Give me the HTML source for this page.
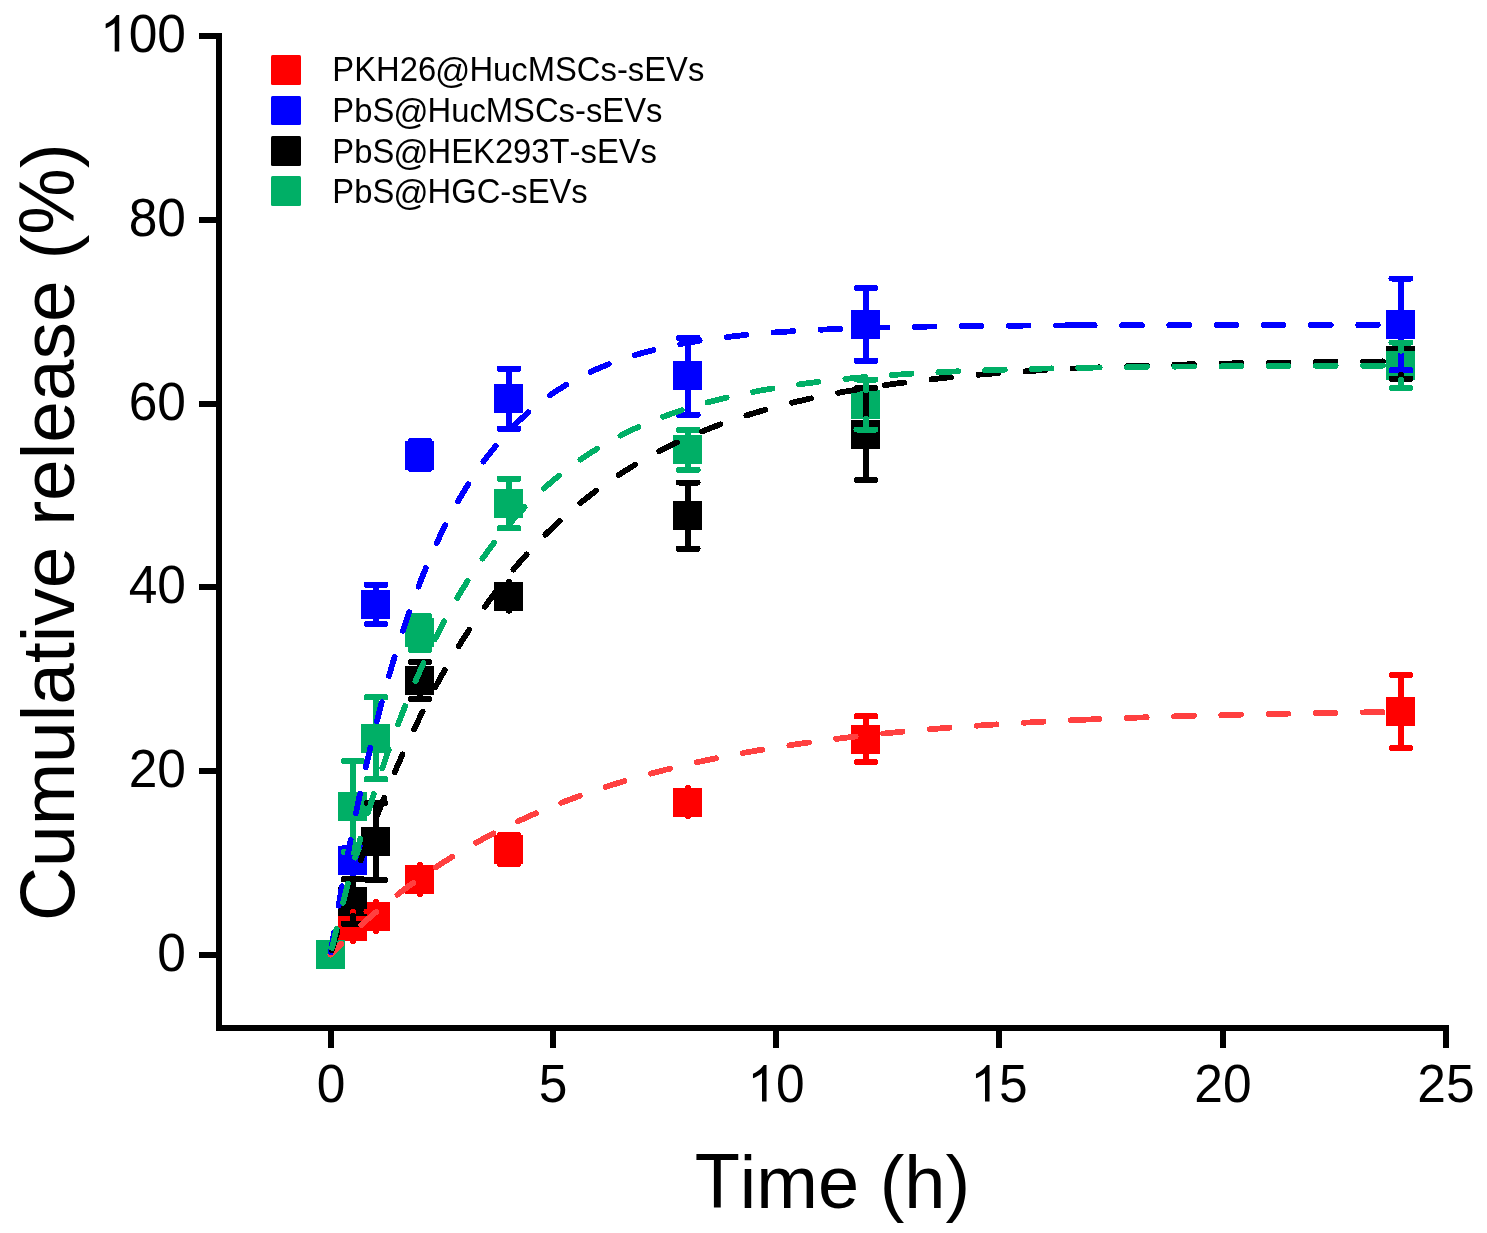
<!DOCTYPE html>
<html><head><meta charset="utf-8"><style>
html,body{margin:0;padding:0;background:#fff;overflow:hidden;}
svg{display:block;will-change:transform;}
text{font-family:"Liberation Sans",sans-serif;fill:#000;font-kerning:none;font-feature-settings:"kern" 0;}
</style></head><body>
<svg width="1487" height="1233" viewBox="0 0 1487 1233">
<rect width="1487" height="1233" fill="#fff"/>
<g fill="#000" shape-rendering="crispEdges">
<rect x="216" y="33" width="6" height="998"/>
<rect x="216" y="1025" width="1233" height="6"/>
<rect x="199" y="952" width="20" height="6"/>
<rect x="199" y="768" width="20" height="6"/>
<rect x="199" y="584" width="20" height="6"/>
<rect x="199" y="401" width="20" height="6"/>
<rect x="199" y="217" width="20" height="6"/>
<rect x="199" y="33" width="20" height="6"/>
<rect x="328" y="1028" width="6" height="20"/>
<rect x="550" y="1028" width="6" height="20"/>
<rect x="773" y="1028" width="6" height="20"/>
<rect x="996" y="1028" width="6" height="20"/>
<rect x="1220" y="1028" width="6" height="20"/>
<rect x="1443" y="1028" width="6" height="20"/>
</g>
<g fill="#000">
<text font-size="53" transform="translate(157.35 970.50) scale(0.972 1)">0</text>
<text font-size="53" transform="translate(128.70 786.50) scale(0.972 1)">2</text><text font-size="53" transform="translate(157.35 786.50) scale(0.972 1)">0</text>
<text font-size="53" transform="translate(128.70 602.50) scale(0.972 1)">4</text><text font-size="53" transform="translate(157.35 602.50) scale(0.972 1)">0</text>
<text font-size="53" transform="translate(128.70 419.50) scale(0.972 1)">6</text><text font-size="53" transform="translate(157.35 419.50) scale(0.972 1)">0</text>
<text font-size="53" transform="translate(128.70 235.50) scale(0.972 1)">8</text><text font-size="53" transform="translate(157.35 235.50) scale(0.972 1)">0</text>
<polygon points="119.24,51.50 114.71,51.50 114.71,22.95 113.63,23.97 112.12,25.02 110.36,26.06 108.60,26.96 107.09,27.66 105.66,28.20 105.66,23.87 108.35,22.55 110.86,20.84 113.13,18.89 114.89,16.90 116.47,15.01 119.24,15.01"/><text font-size="53" transform="translate(128.70 51.50) scale(0.972 1)">0</text><text font-size="53" transform="translate(157.35 51.50) scale(0.972 1)">0</text>
<text font-size="53" transform="translate(316.67 1101.50) scale(0.972 1)">0</text>
<text font-size="53" transform="translate(538.67 1101.50) scale(0.972 1)">5</text>
<polygon points="766.54,1101.50 762.01,1101.50 762.01,1072.95 760.93,1073.97 759.42,1075.02 757.66,1076.06 755.90,1076.96 754.39,1077.66 752.96,1078.20 752.96,1073.87 755.65,1072.55 758.17,1070.84 760.43,1068.89 762.19,1066.90 763.78,1065.01 766.54,1065.01"/><text font-size="53" transform="translate(776.00 1101.50) scale(0.972 1)">0</text>
<polygon points="989.54,1101.50 985.01,1101.50 985.01,1072.95 983.93,1073.97 982.42,1075.02 980.66,1076.06 978.90,1076.96 977.39,1077.66 975.96,1078.20 975.96,1073.87 978.65,1072.55 981.17,1070.84 983.43,1068.89 985.19,1066.90 986.78,1065.01 989.54,1065.01"/><text font-size="53" transform="translate(999.00 1101.50) scale(0.972 1)">5</text>
<text font-size="53" transform="translate(1194.35 1101.50) scale(0.972 1)">2</text><text font-size="53" transform="translate(1223.00 1101.50) scale(0.972 1)">0</text>
<text font-size="53" transform="translate(1417.35 1101.50) scale(0.972 1)">2</text><text font-size="53" transform="translate(1446.00 1101.50) scale(0.972 1)">5</text>
</g>
<text font-size="74.03" transform="translate(694.64 1208.20) scale(1.0 1.045)">T</text><text font-size="74.03" transform="translate(739.86 1208.20) scale(1.0 1)">i</text><text font-size="74.03" transform="translate(756.31 1208.20) scale(1.0 1)">m</text><text font-size="74.03" transform="translate(817.98 1208.20) scale(1.0 1)">e</text><text font-size="74.03" transform="translate(879.71 1208.20) scale(1.0 1)">(</text><text font-size="74.03" transform="translate(904.37 1208.20) scale(1.0 1)">h</text><text font-size="74.03" transform="translate(945.54 1208.20) scale(1.0 1)">)</text>
<g transform="translate(73.8 921) rotate(-90)"><text font-size="74.84" transform="translate(0.00 0.00) scale(1.0 1.045)">C</text><text font-size="74.84" transform="translate(54.05 0.00) scale(1.0 1)">u</text><text font-size="74.84" transform="translate(95.67 0.00) scale(1.0 1)">m</text><text font-size="74.84" transform="translate(158.01 0.00) scale(1.0 1)">u</text><text font-size="74.84" transform="translate(199.63 0.00) scale(1.0 1)">l</text><text font-size="74.84" transform="translate(216.26 0.00) scale(1.0 1)">a</text><text font-size="74.84" transform="translate(257.88 0.00) scale(1.0 1)">t</text><text font-size="74.84" transform="translate(278.68 0.00) scale(1.0 1)">i</text><text font-size="74.84" transform="translate(295.30 0.00) scale(1.0 1)">v</text><text font-size="74.84" transform="translate(332.72 0.00) scale(1.0 1)">e</text><text font-size="74.84" transform="translate(395.14 0.00) scale(1.0 1)">r</text><text font-size="74.84" transform="translate(420.06 0.00) scale(1.0 1)">e</text><text font-size="74.84" transform="translate(461.68 0.00) scale(1.0 1)">l</text><text font-size="74.84" transform="translate(478.31 0.00) scale(1.0 1)">e</text><text font-size="74.84" transform="translate(519.93 0.00) scale(1.0 1)">a</text><text font-size="74.84" transform="translate(561.56 0.00) scale(1.0 1)">s</text><text font-size="74.84" transform="translate(598.98 0.00) scale(1.0 1)">e</text><text font-size="74.84" transform="translate(661.39 0.00) scale(1.0 1)">(</text><text font-size="74.84" transform="translate(686.31 0.00) scale(1.0 1.045)">%</text><text font-size="74.84" transform="translate(752.86 0.00) scale(1.0 1)">)</text></g>
<rect x="271" y="55" width="30" height="30" rx="1.5" fill="#ff0000"/>
<text font-size="32.77" transform="translate(332.31 81.00) scale(1.0 1.045)">P</text><text font-size="32.77" transform="translate(354.17 81.00) scale(1.0 1.045)">K</text><text font-size="32.77" transform="translate(376.02 81.00) scale(1.0 1.045)">H</text><text font-size="32.77" transform="translate(399.69 81.00) scale(1.0 1.045)">2</text><text font-size="32.77" transform="translate(417.92 81.00) scale(1.0 1.045)">6</text><text font-size="32.77" transform="translate(435.07 82.98) scale(1.0650 1.088)">@</text><text font-size="32.77" transform="translate(469.41 81.00) scale(1.0 1.045)">H</text><text font-size="32.77" transform="translate(493.07 81.00) scale(1.0 1)">u</text><text font-size="32.77" transform="translate(511.30 81.00) scale(1.0 1)">c</text><text font-size="32.77" transform="translate(527.68 81.00) scale(1.0 1.045)">M</text><text font-size="32.77" transform="translate(554.98 81.00) scale(1.0 1.045)">S</text><text font-size="32.77" transform="translate(576.84 81.00) scale(1.0 1.045)">C</text><text font-size="32.77" transform="translate(600.50 81.00) scale(1.0 1)">s</text><text font-size="32.77" transform="translate(616.89 81.00) scale(1.0 1)">-</text><text font-size="32.77" transform="translate(627.80 81.00) scale(1.0 1)">s</text><text font-size="32.77" transform="translate(644.19 81.00) scale(1.0 1.045)">E</text><text font-size="32.77" transform="translate(666.04 81.00) scale(1.0 1.045)">V</text><text font-size="32.77" transform="translate(687.90 81.00) scale(1.0 1)">s</text>
<rect x="271" y="96" width="30" height="29" rx="1.5" fill="#0000ff"/>
<text font-size="32.77" transform="translate(332.31 122.00) scale(1.0 1.045)">P</text><text font-size="32.77" transform="translate(354.17 122.00) scale(1.0 1)">b</text><text font-size="32.77" transform="translate(372.39 122.00) scale(1.0 1.045)">S</text><text font-size="32.77" transform="translate(393.18 123.98) scale(1.0650 1.088)">@</text><text font-size="32.77" transform="translate(427.52 122.00) scale(1.0 1.045)">H</text><text font-size="32.77" transform="translate(451.18 122.00) scale(1.0 1)">u</text><text font-size="32.77" transform="translate(469.41 122.00) scale(1.0 1)">c</text><text font-size="32.77" transform="translate(485.79 122.00) scale(1.0 1.045)">M</text><text font-size="32.77" transform="translate(513.09 122.00) scale(1.0 1.045)">S</text><text font-size="32.77" transform="translate(534.95 122.00) scale(1.0 1.045)">C</text><text font-size="32.77" transform="translate(558.61 122.00) scale(1.0 1)">s</text><text font-size="32.77" transform="translate(575.00 122.00) scale(1.0 1)">-</text><text font-size="32.77" transform="translate(585.91 122.00) scale(1.0 1)">s</text><text font-size="32.77" transform="translate(602.29 122.00) scale(1.0 1.045)">E</text><text font-size="32.77" transform="translate(624.15 122.00) scale(1.0 1.045)">V</text><text font-size="32.77" transform="translate(646.01 122.00) scale(1.0 1)">s</text>
<rect x="271" y="136" width="30" height="30" rx="1.5" fill="#000000"/>
<text font-size="32.77" transform="translate(332.31 163.00) scale(1.0 1.045)">P</text><text font-size="32.77" transform="translate(354.17 163.00) scale(1.0 1)">b</text><text font-size="32.77" transform="translate(372.39 163.00) scale(1.0 1.045)">S</text><text font-size="32.77" transform="translate(393.18 164.98) scale(1.0650 1.088)">@</text><text font-size="32.77" transform="translate(427.52 163.00) scale(1.0 1.045)">H</text><text font-size="32.77" transform="translate(451.18 163.00) scale(1.0 1.045)">E</text><text font-size="32.77" transform="translate(473.04 163.00) scale(1.0 1.045)">K</text><text font-size="32.77" transform="translate(494.90 163.00) scale(1.0 1.045)">2</text><text font-size="32.77" transform="translate(513.12 163.00) scale(1.0 1.045)">9</text><text font-size="32.77" transform="translate(531.35 163.00) scale(1.0 1.045)">3</text><text font-size="32.77" transform="translate(549.57 163.00) scale(1.0 1.045)">T</text><text font-size="32.77" transform="translate(569.59 163.00) scale(1.0 1)">-</text><text font-size="32.77" transform="translate(580.50 163.00) scale(1.0 1)">s</text><text font-size="32.77" transform="translate(596.89 163.00) scale(1.0 1.045)">E</text><text font-size="32.77" transform="translate(618.74 163.00) scale(1.0 1.045)">V</text><text font-size="32.77" transform="translate(640.60 163.00) scale(1.0 1)">s</text>
<rect x="271" y="176" width="30" height="30" rx="1.5" fill="#00af66"/>
<text font-size="32.77" transform="translate(332.31 203.00) scale(1.0 1.045)">P</text><text font-size="32.77" transform="translate(354.17 203.00) scale(1.0 1)">b</text><text font-size="32.77" transform="translate(372.39 203.00) scale(1.0 1.045)">S</text><text font-size="32.77" transform="translate(393.18 204.98) scale(1.0650 1.088)">@</text><text font-size="32.77" transform="translate(427.52 203.00) scale(1.0 1.045)">H</text><text font-size="32.77" transform="translate(451.18 203.00) scale(1.0 1.045)">G</text><text font-size="32.77" transform="translate(476.67 203.00) scale(1.0 1.045)">C</text><text font-size="32.77" transform="translate(500.34 203.00) scale(1.0 1)">-</text><text font-size="32.77" transform="translate(511.25 203.00) scale(1.0 1)">s</text><text font-size="32.77" transform="translate(527.63 203.00) scale(1.0 1.045)">E</text><text font-size="32.77" transform="translate(549.49 203.00) scale(1.0 1.045)">V</text><text font-size="32.77" transform="translate(571.35 203.00) scale(1.0 1)">s</text>
<g shape-rendering="crispEdges">
<rect x="316.0" y="940.0" width="29" height="29" fill="#ff0000"/>
<rect x="338.0" y="912.0" width="29" height="29" fill="#ff0000"/>
<rect x="361.0" y="902.0" width="29" height="29" fill="#ff0000"/>
<rect x="405.0" y="865.0" width="29" height="29" fill="#ff0000"/>
<rect x="494.0" y="835.1" width="29" height="29" fill="#ff0000"/>
<rect x="673.1" y="787.5" width="29" height="29" fill="#ff0000"/>
<rect x="851.0" y="724.7" width="29" height="29" fill="#ff0000"/>
<rect x="1386.0" y="697.0" width="29" height="29" fill="#ff0000"/>
<rect x="316.0" y="940.0" width="29" height="29" fill="#0000ff"/>
<rect x="338.0" y="845.8" width="29" height="29" fill="#0000ff"/>
<rect x="361.0" y="590.0" width="29" height="29" fill="#0000ff"/>
<rect x="405.0" y="440.5" width="29" height="29" fill="#0000ff"/>
<rect x="494.0" y="384.4" width="29" height="29" fill="#0000ff"/>
<rect x="673.1" y="361.0" width="29" height="29" fill="#0000ff"/>
<rect x="851.0" y="309.9" width="29" height="29" fill="#0000ff"/>
<rect x="1386.0" y="309.9" width="29" height="29" fill="#0000ff"/>
<rect x="316.0" y="940.0" width="29" height="29" fill="#000000"/>
<rect x="338.0" y="887.1" width="29" height="29" fill="#000000"/>
<rect x="361.0" y="827.0" width="29" height="29" fill="#000000"/>
<rect x="405.0" y="666.0" width="29" height="29" fill="#000000"/>
<rect x="494.0" y="581.7" width="29" height="29" fill="#000000"/>
<rect x="673.1" y="501.1" width="29" height="29" fill="#000000"/>
<rect x="851.0" y="419.5" width="29" height="29" fill="#000000"/>
<rect x="1386.0" y="346.2" width="29" height="29" fill="#000000"/>
<rect x="316.0" y="940.0" width="29" height="29" fill="#00af66"/>
<rect x="338.0" y="792.0" width="29" height="29" fill="#00af66"/>
<rect x="361.0" y="723.8" width="29" height="29" fill="#00af66"/>
<rect x="405.0" y="618.4" width="29" height="29" fill="#00af66"/>
<rect x="494.0" y="489.0" width="29" height="29" fill="#00af66"/>
<rect x="673.1" y="435.4" width="29" height="29" fill="#00af66"/>
<rect x="851.0" y="390.0" width="29" height="29" fill="#00af66"/>
<rect x="1386.0" y="350.8" width="29" height="29" fill="#00af66"/>
</g>
<path d="M353.0 912.0V921.5M343.5 921.5H362.5M353.0 941.0V931.5M343.5 931.5H362.5M376.0 902.0V911.5M366.5 911.5H385.5M376.0 931.0V921.5M366.5 921.5H385.5M420.0 865.0V871.5M410.5 871.5H429.5M420.0 894.0V887.5M410.5 887.5H429.5M509.0 835.1V835.1M499.5 835.1H518.5M509.0 864.1V864.1M499.5 864.1H518.5M688.1 787.5V794.0M678.6 794.0H697.6M688.1 816.5V810.0M678.6 810.0H697.6M866.0 724.7V716.3M856.5 716.3H875.5M866.0 753.7V762.1M856.5 762.1H875.5M1401.0 697.0V675.0M1391.5 675.0H1410.5M1401.0 726.0V748.0M1391.5 748.0H1410.5" stroke="#ff0000" stroke-width="6" stroke-linecap="round" fill="none" shape-rendering="crispEdges"/>
<path d="M353.0 845.8V848.3M343.5 848.3H362.5M353.0 874.8V872.3M343.5 872.3H362.5M376.0 590.0V584.9M366.5 584.9H385.5M376.0 619.0V624.1M366.5 624.1H385.5M420.0 440.5V441.0M410.5 441.0H429.5M420.0 469.5V469.0M410.5 469.0H429.5M509.0 384.4V368.9M499.5 368.9H518.5M509.0 413.4V428.9M499.5 428.9H518.5M688.1 361.0V337.9M678.6 337.9H697.6M688.1 390.0V414.9M678.6 414.9H697.6M866.0 309.9V288.0M856.5 288.0H875.5M866.0 338.9V360.8M856.5 360.8H875.5M1401.0 309.9V278.5M1391.5 278.5H1410.5M1401.0 338.9V370.3M1391.5 370.3H1410.5" stroke="#0000ff" stroke-width="6" stroke-linecap="round" fill="none" shape-rendering="crispEdges"/>
<path d="M353.0 887.1V879.3M343.5 879.3H362.5M353.0 916.1V923.9M343.5 923.9H362.5M376.0 827.0V803.0M366.5 803.0H385.5M376.0 856.0V880.0M366.5 880.0H385.5M420.0 666.0V662.0M410.5 662.0H429.5M420.0 695.0V699.0M410.5 699.0H429.5M509.0 581.7V586.2M499.5 586.2H518.5M509.0 610.7V606.2M499.5 606.2H518.5M688.1 501.1V482.5M678.6 482.5H697.6M688.1 530.1V548.7M678.6 548.7H697.6M866.0 419.5V388.0M856.5 388.0H875.5M866.0 448.5V480.0M856.5 480.0H875.5M1401.0 346.2V342.5M1391.5 342.5H1410.5M1401.0 375.2V378.9M1391.5 378.9H1410.5" stroke="#000000" stroke-width="6" stroke-linecap="round" fill="none" shape-rendering="crispEdges"/>
<path d="M353.0 792.0V761.0M343.5 761.0H362.5M353.0 821.0V852.0M343.5 852.0H362.5M376.0 723.8V697.2M366.5 697.2H385.5M376.0 752.8V779.2M366.5 779.2H385.5M420.0 618.4V616.0M410.5 616.0H429.5M420.0 647.4V649.8M410.5 649.8H429.5M509.0 489.0V478.7M499.5 478.7H518.5M509.0 518.0V528.3M499.5 528.3H518.5M688.1 435.4V429.9M678.6 429.9H697.6M688.1 464.4V469.9M678.6 469.9H697.6M866.0 390.0V379.5M856.5 379.5H875.5M866.0 419.0V429.5M856.5 429.5H875.5M1401.0 350.8V342.5M1391.5 342.5H1410.5M1401.0 379.8V388.1M1391.5 388.1H1410.5" stroke="#00af66" stroke-width="6" stroke-linecap="round" fill="none" shape-rendering="crispEdges"/>
<polyline points="330.50,954.50 330.54,954.46 330.61,954.39 330.71,954.29 330.83,954.16 330.97,954.02 331.13,953.85 331.31,953.67 331.50,953.48 331.71,953.26 331.93,953.04 332.17,952.80 332.42,952.54 332.68,952.28 332.96,952.00 333.24,951.71 333.54,951.41 333.85,951.09 334.17,950.77 334.50,950.44 334.84,950.09 335.20,949.74 335.56,949.37 335.93,949.00 336.32,948.62 336.71,948.23 337.11,947.83 337.52,947.42 337.94,947.00 338.37,946.57 338.81,946.14 339.26,945.69 339.72,945.24 340.18,944.79 340.65,944.32 341.14,943.85 341.63,943.37 342.12,942.88 342.63,942.39 343.15,941.89 343.67,941.38 344.20,940.87 344.74,940.35 345.28,939.82 345.84,939.29 346.40,938.75 346.97,938.21 347.55,937.65 348.13,937.10 348.72,936.54 349.32,935.97 349.93,935.40 350.54,934.82 351.16,934.24 351.79,933.65 352.42,933.05 353.06,932.46 353.71,931.85 354.36,931.25 355.03,930.63 355.69,930.02 356.37,929.39 357.05,928.77 357.74,928.14 358.44,927.50 359.14,926.87 359.85,926.22 360.56,925.58 361.28,924.93 362.01,924.27 362.74,923.62 363.48,922.95 364.23,922.29 364.98,921.62 365.74,920.95 366.51,920.27 367.28,919.60 368.05,918.91 368.84,918.23 369.63,917.54 370.42,916.85 371.22,916.16 372.03,915.46 372.84,914.76 373.66,914.06 374.49,913.36 375.32,912.65 376.16,911.94 377.00,911.23 377.85,910.52 378.70,909.80 379.56,909.08 380.43,908.36 381.30,907.64 382.17,906.91 383.06,906.19 383.94,905.46 384.84,904.73 385.74,903.99 386.64,903.26 387.55,902.52 388.47,901.79 389.39,901.05 390.31,900.31 391.25,899.57 392.18,898.82 393.13,898.08 394.07,897.33 395.03,896.58 395.99,895.84 396.95,895.09 397.92,894.34 398.89,893.59 399.87,892.83 400.86,892.08 401.85,891.33 402.84,890.57 403.84,889.81 404.85,889.06 405.86,888.30 406.88,887.54 407.90,886.78 408.92,886.03 409.95,885.27 410.99,884.51 412.03,883.75 413.08,882.99 414.13,882.23 415.18,881.46 416.25,880.70 417.31,879.94 418.38,879.18 419.46,878.42 420.54,877.66 421.62,876.90 422.71,876.13 423.81,875.37 424.91,874.61 426.02,873.85 427.13,873.09 428.24,872.33 429.36,871.57 430.48,870.81 431.61,870.05 432.75,869.29 433.88,868.53 435.03,867.77 436.18,867.01 437.33,866.26 438.49,865.50 439.65,864.74 440.81,863.99 441.99,863.23 443.16,862.48 444.34,861.72 445.53,860.97 446.72,860.22 447.91,859.47 449.11,858.72 450.31,857.97 451.52,857.22 452.73,856.47 453.95,855.73 455.17,854.98 456.40,854.24 457.63,853.50 458.86,852.75 460.10,852.01 461.35,851.27 462.59,850.53 463.85,849.80 465.10,849.06 466.37,848.33 467.63,847.59 468.90,846.86 470.18,846.13 471.46,845.40 472.74,844.67 474.03,843.95 475.32,843.22 476.62,842.50 477.92,841.78 479.22,841.06 480.53,840.34 481.85,839.62 483.17,838.90 484.49,838.19 485.82,837.48 487.15,836.77 488.48,836.06 489.82,835.35 491.16,834.64 492.51,833.94 493.87,833.24 495.22,832.54 496.58,831.84 497.95,831.14 499.32,830.45 500.69,829.75 502.07,829.06 503.45,828.37 504.83,827.69 506.22,827.00 507.62,826.32 509.02,825.64 510.42,824.96 511.82,824.28 513.23,823.60 514.65,822.93 516.07,822.26 517.49,821.59 518.92,820.92 520.35,820.26 521.78,819.59 523.22,818.93 524.66,818.27 526.11,817.61 527.56,816.96 529.02,816.31 530.48,815.66 531.94,815.01 533.41,814.36 534.88,813.72 536.35,813.08 537.83,812.44 539.31,811.80 540.80,811.17 542.29,810.53 543.79,809.90 545.29,809.27 546.79,808.65 548.29,808.02 549.80,807.40 551.32,806.78 552.84,806.17 554.36,805.55 555.89,804.94 557.42,804.33 558.95,803.72 560.49,803.12 562.03,802.52 563.57,801.92 565.12,801.32 566.68,800.72 568.23,800.13 569.79,799.54 571.36,798.95 572.93,798.36 574.50,797.78 576.08,797.20 577.66,796.62 579.24,796.05 580.83,795.47 582.42,794.90 584.01,794.33 585.61,793.76 587.22,793.20 588.82,792.64 590.43,792.08 592.05,791.52 593.66,790.97 595.28,790.42 596.91,789.87 598.54,789.32 600.17,788.78 601.81,788.23 603.45,787.70 605.09,787.16 606.74,786.62 608.39,786.09 610.04,785.56 611.70,785.04 613.36,784.51 615.03,783.99 616.70,783.47 618.37,782.95 620.05,782.44 621.73,781.93 623.41,781.42 625.10,780.91 626.79,780.40 628.49,779.90 630.19,779.40 631.89,778.90 633.59,778.41 635.30,777.92 637.02,777.43 638.73,776.94 640.45,776.45 642.18,775.97 643.90,775.49 645.63,775.01 647.37,774.54 649.11,774.07 650.85,773.60 652.59,773.13 654.34,772.66 656.10,772.20 657.85,771.74 659.61,771.28 661.37,770.83 663.14,770.37 664.91,769.92 666.68,769.48 668.46,769.03 670.24,768.59 672.02,768.15 673.81,767.71 675.60,767.27 677.40,766.84 679.20,766.41 681.00,765.98 682.80,765.55 684.61,765.13 686.42,764.70 688.24,764.28 690.06,763.87 691.88,763.45 693.70,763.04 695.53,762.63 697.37,762.22 699.20,761.82 701.04,761.42 702.88,761.02 704.73,760.62 706.58,760.22 708.43,759.83 710.29,759.44 712.15,759.05 714.01,758.66 715.88,758.28 717.75,757.89 719.62,757.51 721.50,757.14 723.38,756.76 725.27,756.39 727.15,756.02 729.04,755.65 730.94,755.28 732.83,754.92 734.73,754.56 736.64,754.20 738.55,753.84 740.46,753.49 742.37,753.13 744.29,752.78 746.21,752.43 748.13,752.09 750.06,751.74 751.99,751.40 753.92,751.06 755.86,750.72 757.80,750.39 759.75,750.06 761.69,749.73 763.64,749.40 765.60,749.07 767.56,748.74 769.52,748.42 771.48,748.10 773.45,747.78 775.42,747.47 777.39,747.15 779.37,746.84 781.35,746.53 783.33,746.22 785.32,745.91 787.31,745.61 789.30,745.31 791.30,745.01 793.30,744.71 795.30,744.41 797.31,744.12 799.32,743.83 801.33,743.54 803.34,743.25 805.36,742.96 807.38,742.68 809.41,742.40 811.44,742.12 813.47,741.84 815.51,741.56 817.54,741.29 819.59,741.01 821.63,740.74 823.68,740.47 825.73,740.21 827.78,739.94 829.84,739.68 831.90,739.42 833.97,739.16 836.03,738.90 838.10,738.64 840.18,738.39 842.25,738.14 844.33,737.89 846.42,737.64 848.50,737.39 850.59,737.14 852.68,736.90 854.78,736.66 856.88,736.42 858.98,736.18 861.09,735.94 863.19,735.71 865.30,735.48 867.42,735.24 869.54,735.01 871.66,734.79 873.78,734.56 875.91,734.34 878.04,734.11 880.17,733.89 882.31,733.67 884.45,733.45 886.59,733.24 888.73,733.02 890.88,732.81 893.03,732.60 895.19,732.39 897.35,732.18 899.51,731.97 901.67,731.77 903.84,731.56 906.01,731.36 908.18,731.16 910.36,730.96 912.54,730.76 914.72,730.57 916.91,730.37 919.10,730.18 921.29,729.99 923.48,729.80 925.68,729.61 927.88,729.42 930.08,729.24 932.29,729.05 934.50,728.87 936.71,728.69 938.93,728.51 941.15,728.33 943.37,728.15 945.60,727.98 947.82,727.80 950.06,727.63 952.29,727.46 954.53,727.29 956.77,727.12 959.01,726.95 961.26,726.78 963.51,726.62 965.76,726.45 968.01,726.29 970.27,726.13 972.53,725.97 974.80,725.81 977.06,725.66 979.33,725.50 981.61,725.35 983.88,725.19 986.16,725.04 988.44,724.89 990.73,724.74 993.02,724.59 995.31,724.44 997.60,724.30 999.90,724.15 1002.20,724.01 1004.50,723.87 1006.81,723.73 1009.12,723.59 1011.43,723.45 1013.74,723.31 1016.06,723.17 1018.38,723.04 1020.70,722.90 1023.03,722.77 1025.36,722.64 1027.69,722.51 1030.03,722.38 1032.36,722.25 1034.71,722.12 1037.05,722.00 1039.40,721.87 1041.75,721.75 1044.10,721.62 1046.45,721.50 1048.81,721.38 1051.17,721.26 1053.54,721.14 1055.91,721.02 1058.28,720.91 1060.65,720.79 1063.03,720.67 1065.40,720.56 1067.79,720.45 1070.17,720.34 1072.56,720.22 1074.95,720.11 1077.34,720.01 1079.74,719.90" fill="none" stroke="#ff4040" stroke-width="5.8" stroke-dasharray="19.80 27.33" stroke-dashoffset="4.44" stroke-linecap="round" stroke-linejoin="round" shape-rendering="crispEdges"/>
<polyline points="1079.74,719.90 1082.41,719.78 1085.08,719.66 1087.75,719.54 1090.43,719.43 1093.10,719.31 1095.77,719.20 1098.44,719.09 1101.12,718.98 1103.79,718.87 1106.46,718.76 1109.13,718.65 1111.81,718.55 1114.48,718.44 1117.15,718.34 1119.82,718.24 1122.50,718.14 1125.17,718.04 1127.84,717.94 1130.51,717.84 1133.18,717.74 1135.86,717.65 1138.53,717.55 1141.20,717.46 1143.87,717.37 1146.55,717.28 1149.22,717.19 1151.89,717.10 1154.56,717.01 1157.24,716.92 1159.91,716.84 1162.58,716.75 1165.25,716.67 1167.93,716.58 1170.60,716.50 1173.27,716.42 1175.94,716.34 1178.61,716.26 1181.29,716.18 1183.96,716.10 1186.63,716.02 1189.30,715.95 1191.98,715.87 1194.65,715.79 1197.32,715.72 1199.99,715.65 1202.67,715.58 1205.34,715.50 1208.01,715.43 1210.68,715.36 1213.36,715.29 1216.03,715.23 1218.70,715.16 1221.37,715.09 1224.04,715.03 1226.72,714.96 1229.39,714.90 1232.06,714.83 1234.73,714.77 1237.41,714.71 1240.08,714.64 1242.75,714.58 1245.42,714.52 1248.10,714.46 1250.77,714.40 1253.44,714.34 1256.11,714.29 1258.79,714.23 1261.46,714.17 1264.13,714.12 1266.80,714.06 1269.47,714.01 1272.15,713.95 1274.82,713.90 1277.49,713.85 1280.16,713.79 1282.84,713.74 1285.51,713.69 1288.18,713.64 1290.85,713.59 1293.53,713.54 1296.20,713.49 1298.87,713.44 1301.54,713.40 1304.22,713.35 1306.89,713.30 1309.56,713.26 1312.23,713.21 1314.90,713.16 1317.58,713.12 1320.25,713.08 1322.92,713.03 1325.59,712.99 1328.27,712.95 1330.94,712.90 1333.61,712.86 1336.28,712.82 1338.96,712.78 1341.63,712.74 1344.30,712.70 1346.97,712.66 1349.65,712.62 1352.32,712.58 1354.99,712.54 1357.66,712.50 1360.33,712.47 1363.01,712.43 1365.68,712.39 1368.35,712.36 1371.02,712.32 1373.70,712.29 1376.37,712.25 1379.04,712.22 1381.71,712.18 1384.39,712.15 1387.06,712.11 1389.73,712.08 1392.40,712.05 1395.08,712.02 1397.75,711.98 1400.42,711.95" fill="none" stroke="#ff4040" stroke-width="5.8" stroke-dasharray="19.80 27.40" stroke-dashoffset="0.00" stroke-linecap="round" stroke-linejoin="round" shape-rendering="crispEdges"/>
<polyline points="330.50,954.50 330.54,954.28 330.61,953.82 330.71,953.20 330.83,952.44 330.97,951.56 331.13,950.56 331.30,949.46 331.50,948.27 331.70,946.99 331.92,945.62 332.16,944.16 332.41,942.64 332.67,941.03 332.94,939.36 333.22,937.61 333.52,935.80 333.83,933.93 334.15,932.00 334.48,930.00 334.82,927.95 335.17,925.85 335.53,923.69 335.90,921.48 336.28,919.22 336.67,916.91 337.07,914.55 337.48,912.15 337.89,909.71 338.32,907.22 338.76,904.69 339.20,902.12 339.66,899.52 340.12,896.87 340.59,894.19 341.07,891.48 341.55,888.73 342.05,885.95 342.55,883.14 343.06,880.29 343.58,877.42 344.11,874.52 344.65,871.60 345.19,868.64 345.74,865.66 346.30,862.66 346.86,859.63 347.44,856.59 348.02,853.52 348.60,850.43 349.20,847.32 349.80,844.19 350.41,841.04 351.03,837.88 351.65,834.69 352.28,831.50 352.92,828.29 353.56,825.06 354.21,821.83 354.87,818.58 355.53,815.31 356.20,812.04 356.88,808.76 357.56,805.47 358.26,802.17 358.95,798.86 359.66,795.54 360.37,792.22 361.08,788.89 361.80,785.55 362.53,782.21 363.27,778.87 364.01,775.52 364.76,772.17 365.51,768.82 366.27,765.46 367.04,762.11 367.81,758.75 368.59,755.39 369.37,752.04 370.16,748.68 370.96,745.33 371.76,741.98 372.57,738.63 373.38,735.28 374.20,731.94 375.03,728.60 375.86,725.26 376.70,721.93 377.54,718.60 378.39,715.28 379.24,711.97 380.10,708.66 380.97,705.36 381.84,702.07 382.72,698.78 383.60,695.51 384.49,692.24 385.38,688.98 386.28,685.73 387.18,682.48 388.09,679.25 389.01,676.03 389.93,672.82 390.85,669.62 391.79,666.43 392.72,663.26 393.66,660.09 394.61,656.94 395.56,653.80 396.52,650.67 397.48,647.55 398.45,644.45 399.43,641.36 400.40,638.29 401.39,635.22 402.38,632.18 403.37,629.14 404.37,626.13 405.37,623.12 406.38,620.13 407.40,617.16 408.42,614.20 409.44,611.26 410.47,608.33 411.50,605.42 412.54,602.53 413.59,599.65 414.64,596.79 415.69,593.94 416.75,591.12 417.81,588.30 418.88,585.51 419.96,582.73 421.04,579.97 422.12,577.23 423.21,574.50 424.30,571.80 425.40,569.11 426.50,566.43 427.61,563.78 428.72,561.14 429.84,558.52 430.96,555.92 432.09,553.34 433.22,550.78 434.35,548.23 435.49,545.71 436.64,543.20 437.79,540.71 438.94,538.24 440.10,535.78 441.27,533.35 442.43,530.93 443.61,528.54 444.78,526.16 445.97,523.80 447.15,521.46 448.34,519.13 449.54,516.83 450.74,514.55 451.94,512.28 453.15,510.03 454.37,507.81 455.58,505.60 456.81,503.41 458.03,501.23 459.27,499.08 460.50,496.95 461.74,494.83 462.99,492.73 464.24,490.65 465.49,488.59 466.75,486.55 468.01,484.53 469.28,482.52 470.55,480.54 471.82,478.57 473.10,476.62 474.39,474.69 475.67,472.78 476.97,470.88 478.26,469.01 479.57,467.15 480.87,465.31 482.18,463.48 483.49,461.68 484.81,459.89 486.13,458.12 487.46,456.37 488.79,454.64 490.13,452.92 491.47,451.22 492.81,449.54 494.16,447.88 495.51,446.23 496.87,444.60 498.23,442.99 499.59,441.39 500.96,439.81 502.33,438.25 503.71,436.70 505.09,435.17 506.47,433.66 507.86,432.16 509.26,430.68 510.65,429.22 512.05,427.77 513.46,426.34 514.87,424.92 516.28,423.52 517.70,422.14 519.12,420.77 520.55,419.42 521.98,418.08 523.41,416.76 524.85,415.45 526.29,414.16 527.74,412.88 529.18,411.62 530.64,410.37 532.10,409.14 533.56,407.92 535.02,406.71 536.49,405.52 537.97,404.35 539.44,403.18 540.92,402.04 542.41,400.90 543.90,399.78 545.39,398.68 546.89,397.58 548.39,396.50 549.89,395.44 551.40,394.39 552.91,393.35 554.43,392.32 555.95,391.30 557.47,390.30 559.00,389.31 560.53,388.34 562.07,387.38 563.61,386.42 565.15,385.48 566.70,384.56 568.25,383.64 569.80,382.74 571.36,381.85 572.92,380.97 574.49,380.10 576.06,379.24 577.63,378.40 579.21,377.56 580.79,376.74 582.38,375.93 583.97,375.13 585.56,374.34 587.15,373.56 588.75,372.79 590.36,372.03 591.96,371.28 593.57,370.54 595.19,369.81 596.81,369.09 598.43,368.39 600.06,367.69 601.68,367.00 603.32,366.32 604.95,365.65 606.59,364.99 608.24,364.34 609.89,363.70 611.54,363.06 613.19,362.44 614.85,361.82 616.51,361.22 618.18,360.62 619.85,360.03 621.52,359.45 623.20,358.88 624.88,358.31 626.56,357.76 628.25,357.21 629.94,356.67 631.64,356.14 633.34,355.62 635.04,355.10 636.74,354.59 638.45,354.09 640.16,353.60 641.88,353.11 643.60,352.63 645.32,352.16 647.05,351.70 648.78,351.24 650.51,350.79 652.25,350.35 653.99,349.91 655.74,349.48 657.49,349.05 659.24,348.64 660.99,348.23 662.75,347.82 664.51,347.42 666.28,347.03 668.05,346.65 669.82,346.27 671.60,345.89 673.37,345.52 675.16,345.16 676.94,344.81 678.73,344.45 680.53,344.11 682.32,343.77 684.12,343.43 685.93,343.11 687.73,342.78 689.55,342.46 691.36,342.15 693.18,341.84 695.00,341.54 696.82,341.24 698.65,340.94 700.48,340.66 702.31,340.37 704.15,340.09 705.99,339.82 707.84,339.55 709.69,339.28 711.54,339.02 713.39,338.76 715.25,338.51 717.11,338.26 718.98,338.01 720.85,337.77 722.72,337.54 724.59,337.30 726.47,337.07 728.35,336.85 730.24,336.63 732.13,336.41 734.02,336.20 735.91,335.99 737.81,335.78 739.71,335.58 741.62,335.38 743.52,335.18 745.44,334.99 747.35,334.80 749.27,334.61 751.19,334.43 753.12,334.25 755.04,334.07 756.98,333.90 758.91,333.73 760.85,333.56 762.79,333.40 764.73,333.24 766.68,333.08 768.63,332.92 770.59,332.77 772.54,332.62 774.51,332.47 776.47,332.32 778.44,332.18 780.41,332.04 782.38,331.90 784.36,331.77 786.34,331.64 788.32,331.51 790.31,331.38 792.30,331.25 794.29,331.13 796.29,331.01 798.29,330.89 800.29,330.77 802.30,330.66 804.31,330.54 806.32,330.43 808.33,330.32 810.35,330.22 812.38,330.11 814.40,330.01 816.43,329.91 818.46,329.81 820.49,329.71 822.53,329.62 824.57,329.53 826.62,329.43 828.67,329.34 830.72,329.26 832.77,329.17 834.83,329.08 836.89,329.00 838.95,328.92 841.02,328.84 843.09,328.76 845.16,328.68 847.23,328.61 849.31,328.53 851.40,328.46 853.48,328.39 855.57,328.32 857.66,328.25 859.75,328.18 861.85,328.11 863.95,328.05 866.06,327.99 868.16,327.92 870.27,327.86 872.39,327.80 874.50,327.74 876.62,327.69 878.74,327.63 880.87,327.57 883.00,327.52 885.13,327.47 887.27,327.41 889.40,327.36 891.54,327.31 893.69,327.26 895.83,327.21 897.99,327.17 900.14,327.12 902.29,327.08 904.45,327.03 906.62,326.99 908.78,326.94 910.95,326.90 913.12,326.86 915.30,326.82 917.47,326.78 919.65,326.74 921.84,326.70 924.02,326.67 926.21,326.63 928.41,326.60 930.60,326.56 932.80,326.53 935.00,326.49 937.21,326.46 939.41,326.43 941.63,326.40 943.84,326.37 946.06,326.34 948.28,326.31 950.50,326.28 952.72,326.25 954.95,326.22 957.18,326.19 959.42,326.17 961.66,326.14 963.90,326.12 966.14,326.09 968.39,326.07 970.64,326.04 972.89,326.02 975.14,326.00 977.40,325.97 979.66,325.95 981.93,325.93 984.20,325.91 986.47,325.89 988.74,325.87 991.02,325.85 993.29,325.83 995.58,325.81 997.86,325.79 1000.15,325.77 1002.44,325.75 1004.73,325.74 1007.03,325.72 1009.33,325.70 1011.63,325.69 1013.94,325.67 1016.25,325.66 1018.56,325.64 1020.87,325.62 1023.19,325.61 1025.51,325.60 1027.83,325.58 1030.16,325.57 1032.49,325.55 1034.82,325.54 1037.15,325.53 1039.49,325.52 1041.83,325.50 1044.18,325.49 1046.52,325.48 1048.87,325.47 1051.22,325.46 1053.58,325.45 1055.94,325.44 1058.30,325.43 1060.66,325.42 1063.03,325.41 1065.39,325.40 1067.77,325.39 1070.14,325.38 1072.52,325.37 1074.90,325.36" fill="none" stroke="#0000ff" stroke-width="5.8" stroke-dasharray="19.80 27.27" stroke-dashoffset="44.69" stroke-linecap="round" stroke-linejoin="round" shape-rendering="crispEdges"/>
<polyline points="1074.90,325.36 1077.61,325.35 1080.33,325.34 1083.04,325.33 1085.75,325.32 1088.46,325.31 1091.18,325.30 1093.89,325.29 1096.60,325.29 1099.31,325.28 1102.03,325.27 1104.74,325.26 1107.45,325.25 1110.16,325.25 1112.88,325.24 1115.59,325.23 1118.30,325.23 1121.02,325.22 1123.73,325.21 1126.44,325.21 1129.15,325.20 1131.87,325.20 1134.58,325.19 1137.29,325.19 1140.00,325.18 1142.72,325.17 1145.43,325.17 1148.14,325.16 1150.85,325.16 1153.57,325.16 1156.28,325.15 1158.99,325.15 1161.71,325.14 1164.42,325.14 1167.13,325.13 1169.84,325.13 1172.56,325.13 1175.27,325.12 1177.98,325.12 1180.69,325.11 1183.41,325.11 1186.12,325.11 1188.83,325.10 1191.54,325.10 1194.26,325.10 1196.97,325.10 1199.68,325.09 1202.40,325.09 1205.11,325.09 1207.82,325.08 1210.53,325.08 1213.25,325.08 1215.96,325.08 1218.67,325.07 1221.38,325.07 1224.10,325.07 1226.81,325.07 1229.52,325.06 1232.23,325.06 1234.95,325.06 1237.66,325.06 1240.37,325.06 1243.09,325.05 1245.80,325.05 1248.51,325.05 1251.22,325.05 1253.94,325.05 1256.65,325.05 1259.36,325.04 1262.07,325.04 1264.79,325.04 1267.50,325.04 1270.21,325.04 1272.92,325.04 1275.64,325.04 1278.35,325.03 1281.06,325.03 1283.78,325.03 1286.49,325.03 1289.20,325.03 1291.91,325.03 1294.63,325.03 1297.34,325.03 1300.05,325.02 1302.76,325.02 1305.48,325.02 1308.19,325.02 1310.90,325.02 1313.61,325.02 1316.33,325.02 1319.04,325.02 1321.75,325.02 1324.47,325.02 1327.18,325.02 1329.89,325.01 1332.60,325.01 1335.32,325.01 1338.03,325.01 1340.74,325.01 1343.45,325.01 1346.17,325.01 1348.88,325.01 1351.59,325.01 1354.30,325.01 1357.02,325.01 1359.73,325.01 1362.44,325.01 1365.16,325.01 1367.87,325.01 1370.58,325.00 1373.29,325.00 1376.01,325.00 1378.72,325.00 1381.43,325.00 1384.14,325.00 1386.86,325.00 1389.57,325.00 1392.28,325.00 1394.99,325.00 1397.71,325.00 1400.42,325.00" fill="none" stroke="#0000ff" stroke-width="5.8" stroke-dasharray="19.80 27.40" stroke-dashoffset="0.00" stroke-linecap="round" stroke-linejoin="round" shape-rendering="crispEdges"/>
<polyline points="330.50,954.50 330.54,954.38 330.61,954.13 330.71,953.79 330.83,953.38 330.97,952.90 331.13,952.36 331.31,951.76 331.50,951.11 331.71,950.41 331.93,949.66 332.17,948.87 332.42,948.03 332.68,947.16 332.96,946.24 333.24,945.28 333.54,944.29 333.85,943.26 334.17,942.19 334.50,941.09 334.85,939.96 335.20,938.79 335.56,937.60 335.93,936.37 336.32,935.12 336.71,933.83 337.11,932.52 337.52,931.18 337.94,929.81 338.37,928.41 338.81,926.99 339.26,925.55 339.72,924.08 340.18,922.58 340.66,921.07 341.14,919.53 341.63,917.97 342.13,916.38 342.63,914.78 343.15,913.15 343.67,911.51 344.20,909.84 344.74,908.16 345.29,906.45 345.84,904.73 346.40,902.99 346.97,901.23 347.55,899.45 348.13,897.66 348.73,895.85 349.33,894.03 349.93,892.19 350.54,890.33 351.16,888.46 351.79,886.57 352.43,884.67 353.07,882.76 353.72,880.83 354.37,878.89 355.03,876.94 355.70,874.97 356.38,872.99 357.06,871.00 357.75,869.00 358.44,866.99 359.14,864.96 359.85,862.93 360.57,860.88 361.29,858.83 362.02,856.77 362.75,854.69 363.49,852.61 364.24,850.52 364.99,848.42 365.75,846.31 366.51,844.19 367.29,842.07 368.06,839.94 368.85,837.80 369.64,835.66 370.43,833.50 371.23,831.35 372.04,829.18 372.86,827.01 373.67,824.84 374.50,822.65 375.33,820.47 376.17,818.28 377.01,816.08 377.86,813.88 378.71,811.68 379.57,809.47 380.44,807.26 381.31,805.04 382.19,802.82 383.07,800.60 383.96,798.38 384.85,796.15 385.75,793.92 386.66,791.69 387.57,789.45 388.48,787.22 389.40,784.98 390.33,782.74 391.26,780.50 392.20,778.26 393.14,776.02 394.09,773.78 395.04,771.54 396.00,769.29 396.97,767.05 397.94,764.81 398.91,762.57 399.89,760.32 400.88,758.08 401.87,755.84 402.86,753.60 403.86,751.36 404.87,749.13 405.88,746.89 406.90,744.66 407.92,742.43 408.94,740.20 409.98,737.97 411.01,735.74 412.05,733.52 413.10,731.30 414.15,729.08 415.21,726.87 416.27,724.65 417.33,722.44 418.41,720.24 419.48,718.04 420.56,715.84 421.65,713.64 422.74,711.45 423.84,709.26 424.94,707.08 426.04,704.90 427.15,702.72 428.27,700.55 429.39,698.39 430.51,696.22 431.64,694.07 432.77,691.92 433.91,689.77 435.06,687.63 436.20,685.49 437.36,683.36 438.51,681.23 439.68,679.11 440.84,677.00 442.02,674.89 443.19,672.78 444.37,670.68 445.56,668.59 446.75,666.51 447.94,664.43 449.14,662.35 450.34,660.29 451.55,658.23 452.77,656.17 453.98,654.12 455.21,652.08 456.43,650.05 457.66,648.02 458.90,646.00 460.14,643.99 461.38,641.98 462.63,639.98 463.88,637.99 465.14,636.00 466.40,634.02 467.67,632.05 468.94,630.09 470.22,628.13 471.50,626.18 472.78,624.24 474.07,622.31 475.36,620.38 476.66,618.47 477.96,616.56 479.26,614.65 480.57,612.76 481.89,610.87 483.21,609.00 484.53,607.13 485.86,605.26 487.19,603.41 488.52,601.56 489.86,599.73 491.21,597.90 492.56,596.07 493.91,594.26 495.27,592.46 496.63,590.66 497.99,588.87 499.36,587.09 500.73,585.32 502.11,583.56 503.49,581.81 504.88,580.06 506.27,578.32 507.67,576.59 509.06,574.88 510.47,573.16 511.87,571.46 513.28,569.77 514.70,568.08 516.12,566.41 517.54,564.74 518.97,563.08 520.40,561.43 521.83,559.79 523.27,558.16 524.72,556.53 526.16,554.92 527.62,553.31 529.07,551.72 530.53,550.13 531.99,548.55 533.46,546.98 534.93,545.42 536.41,543.86 537.89,542.32 539.37,540.78 540.86,539.26 542.35,537.74 543.84,536.23 545.34,534.73 546.85,533.24 548.35,531.76 549.86,530.29 551.38,528.82 552.90,527.37 554.42,525.92 555.95,524.48 557.48,523.05 559.01,521.63 560.55,520.22 562.09,518.82 563.64,517.43 565.19,516.04 566.74,514.67 568.30,513.30 569.86,511.94 571.42,510.59 572.99,509.25 574.57,507.92 576.14,506.59 577.72,505.28 579.31,503.97 580.89,502.68 582.49,501.39 584.08,500.11 585.68,498.83 587.28,497.57 588.89,496.32 590.50,495.07 592.12,493.83 593.73,492.60 595.36,491.38 596.98,490.17 598.61,488.97 600.24,487.77 601.88,486.59 603.52,485.41 605.16,484.24 606.81,483.08 608.46,481.92 610.12,480.78 611.78,479.64 613.44,478.51 615.11,477.39 616.78,476.28 618.45,475.17 620.13,474.08 621.81,472.99 623.49,471.91 625.18,470.84 626.87,469.77 628.57,468.72 630.27,467.67 631.97,466.63 633.68,465.60 635.38,464.57 637.10,463.55 638.82,462.55 640.54,461.54 642.26,460.55 643.99,459.56 645.72,458.59 647.45,457.62 649.19,456.65 650.94,455.70 652.68,454.75 654.43,453.81 656.18,452.88 657.94,451.95 659.70,451.03 661.46,450.12 663.23,449.22 665.00,448.32 666.77,447.43 668.55,446.55 670.33,445.67 672.12,444.81 673.90,443.95 675.70,443.09 677.49,442.25 679.29,441.41 681.09,440.57 682.90,439.75 684.71,438.93 686.52,438.12 688.33,437.31 690.15,436.52 691.98,435.72 693.80,434.94 695.63,434.16 697.46,433.39 699.30,432.62 701.14,431.87 702.98,431.11 704.83,430.37 706.68,429.63 708.54,428.90 710.39,428.17 712.25,427.45 714.12,426.74 715.98,426.03 717.85,425.33 719.73,424.64 721.61,423.95 723.49,423.26 725.37,422.59 727.26,421.92 729.15,421.25 731.04,420.59 732.94,419.94 734.84,419.29 736.75,418.65 738.66,418.02 740.57,417.39 742.48,416.77 744.40,416.15 746.32,415.54 748.25,414.93 750.17,414.33 752.10,413.73 754.04,413.14 755.98,412.56 757.92,411.98 759.86,411.40 761.81,410.84 763.76,410.27 765.72,409.72 767.67,409.16 769.63,408.62 771.60,408.07 773.57,407.54 775.54,407.00 777.51,406.48 779.49,405.96 781.47,405.44 783.45,404.93 785.44,404.42 787.43,403.92 789.42,403.42 791.42,402.93 793.42,402.44 795.42,401.96 797.43,401.48 799.44,401.01 801.45,400.54 803.47,400.07 805.49,399.62 807.51,399.16 809.54,398.71 811.57,398.26 813.60,397.82 815.64,397.38 817.68,396.95 819.72,396.52 821.76,396.10 823.81,395.68 825.86,395.26 827.92,394.85 829.98,394.44 832.04,394.04 834.10,393.64 836.17,393.25 838.24,392.86 840.31,392.47 842.39,392.09 844.47,391.71 846.56,391.33 848.64,390.96 850.73,390.59 852.83,390.23 854.92,389.87 857.02,389.51 859.12,389.16 861.23,388.81 863.34,388.47 865.45,388.12 867.56,387.79 869.68,387.45 871.80,387.12 873.93,386.79 876.05,386.47 878.19,386.15 880.32,385.83 882.46,385.52 884.60,385.21 886.74,384.90 888.88,384.60 891.03,384.30 893.19,384.00 895.34,383.71 897.50,383.41 899.66,383.13 901.83,382.84 903.99,382.56 906.16,382.28 908.34,382.01 910.52,381.73 912.70,381.46 914.88,381.20 917.06,380.93 919.25,380.67 921.45,380.42 923.64,380.16 925.84,379.91 928.04,379.66 930.25,379.41 932.45,379.17 934.66,378.93 936.88,378.69 939.09,378.45 941.31,378.22 943.54,377.99 945.76,377.76 947.99,377.54 950.22,377.32 952.46,377.09 954.69,376.88 956.94,376.66 959.18,376.45 961.43,376.24 963.68,376.03 965.93,375.82 968.18,375.62 970.44,375.42 972.70,375.22 974.97,375.03 977.24,374.83 979.51,374.64 981.78,374.45 984.06,374.26 986.34,374.08 988.62,373.89 990.91,373.71 993.20,373.53 995.49,373.36 997.78,373.18 1000.08,373.01 1002.38,372.84 1004.68,372.67 1006.99,372.50 1009.30,372.34 1011.61,372.18 1013.93,372.02 1016.24,371.86 1018.57,371.70 1020.89,371.55 1023.22,371.39 1025.55,371.24 1027.88,371.09 1030.21,370.94 1032.55,370.80 1034.90,370.65 1037.24,370.51 1039.59,370.37 1041.94,370.23 1044.29,370.09 1046.65,369.96 1049.01,369.82 1051.37,369.69 1053.73,369.56 1056.10,369.43 1058.47,369.30 1060.85,369.18 1063.22,369.05 1065.60,368.93 1067.98,368.81 1070.37,368.69 1072.76,368.57 1075.15,368.45 1077.54,368.33 1079.94,368.22" fill="none" stroke="#000000" stroke-width="5.8" stroke-dasharray="19.80 27.41" stroke-dashoffset="42.91" stroke-linecap="round" stroke-linejoin="round" shape-rendering="crispEdges"/>
<polyline points="1079.94,368.22 1082.61,368.09 1085.28,367.97 1087.95,367.85 1090.62,367.73 1093.29,367.61 1095.96,367.49 1098.63,367.38 1101.30,367.27 1103.98,367.16 1106.65,367.05 1109.32,366.94 1111.99,366.83 1114.66,366.73 1117.33,366.63 1120.00,366.52 1122.67,366.42 1125.34,366.33 1128.01,366.23 1130.68,366.13 1133.35,366.04 1136.02,365.95 1138.69,365.86 1141.36,365.77 1144.04,365.68 1146.71,365.59 1149.38,365.50 1152.05,365.42 1154.72,365.34 1157.39,365.25 1160.06,365.17 1162.73,365.09 1165.40,365.02 1168.07,364.94 1170.74,364.86 1173.41,364.79 1176.08,364.71 1178.75,364.64 1181.42,364.57 1184.10,364.50 1186.77,364.43 1189.44,364.36 1192.11,364.29 1194.78,364.23 1197.45,364.16 1200.12,364.10 1202.79,364.04 1205.46,363.97 1208.13,363.91 1210.80,363.85 1213.47,363.79 1216.14,363.73 1218.81,363.68 1221.48,363.62 1224.16,363.56 1226.83,363.51 1229.50,363.45 1232.17,363.40 1234.84,363.35 1237.51,363.29 1240.18,363.24 1242.85,363.19 1245.52,363.14 1248.19,363.09 1250.86,363.05 1253.53,363.00 1256.20,362.95 1258.87,362.91 1261.54,362.86 1264.22,362.82 1266.89,362.77 1269.56,362.73 1272.23,362.69 1274.90,362.64 1277.57,362.60 1280.24,362.56 1282.91,362.52 1285.58,362.48 1288.25,362.44 1290.92,362.41 1293.59,362.37 1296.26,362.33 1298.93,362.29 1301.61,362.26 1304.28,362.22 1306.95,362.19 1309.62,362.15 1312.29,362.12 1314.96,362.09 1317.63,362.05 1320.30,362.02 1322.97,361.99 1325.64,361.96 1328.31,361.93 1330.98,361.90 1333.65,361.87 1336.32,361.84 1338.99,361.81 1341.67,361.78 1344.34,361.75 1347.01,361.72 1349.68,361.69 1352.35,361.67 1355.02,361.64 1357.69,361.62 1360.36,361.59 1363.03,361.56 1365.70,361.54 1368.37,361.51 1371.04,361.49 1373.71,361.47 1376.38,361.44 1379.05,361.42 1381.73,361.40 1384.40,361.37 1387.07,361.35 1389.74,361.33 1392.41,361.31 1395.08,361.29 1397.75,361.27 1400.42,361.25" fill="none" stroke="#000000" stroke-width="5.8" stroke-dasharray="19.80 27.40" stroke-dashoffset="0.00" stroke-linecap="round" stroke-linejoin="round" shape-rendering="crispEdges"/>
<polyline points="330.50,954.50 330.54,954.34 330.61,954.03 330.71,953.60 330.83,953.07 330.97,952.46 331.13,951.77 331.31,951.01 331.50,950.18 331.71,949.29 331.93,948.34 332.17,947.33 332.42,946.27 332.68,945.15 332.96,943.98 333.24,942.77 333.54,941.51 333.85,940.20 334.17,938.85 334.50,937.46 334.85,936.02 335.20,934.55 335.56,933.03 335.93,931.48 336.32,929.89 336.71,928.27 337.11,926.61 337.52,924.92 337.94,923.20 338.37,921.44 338.81,919.65 339.26,917.84 339.72,915.99 340.18,914.11 340.66,912.21 341.14,910.28 341.63,908.32 342.13,906.34 342.63,904.33 343.15,902.30 343.67,900.25 344.20,898.17 344.74,896.07 345.29,893.94 345.84,891.80 346.40,889.64 346.97,887.45 347.55,885.25 348.13,883.03 348.73,880.79 349.32,878.53 349.93,876.25 350.54,873.96 351.16,871.65 351.79,869.33 352.43,866.99 353.07,864.63 353.71,862.27 354.37,859.88 355.03,857.49 355.70,855.08 356.38,852.66 357.06,850.23 357.75,847.79 358.44,845.33 359.14,842.87 359.85,840.40 360.57,837.91 361.29,835.42 362.02,832.92 362.75,830.41 363.49,827.89 364.24,825.36 364.99,822.83 365.75,820.29 366.51,817.74 367.28,815.19 368.06,812.64 368.85,810.07 369.64,807.50 370.43,804.93 371.23,802.36 372.04,799.77 372.85,797.19 373.67,794.60 374.50,792.01 375.33,789.42 376.17,786.83 377.01,784.23 377.86,781.63 378.71,779.03 379.57,776.43 380.44,773.83 381.31,771.23 382.19,768.62 383.07,766.02 383.96,763.42 384.85,760.82 385.75,758.22 386.65,755.62 387.56,753.03 388.48,750.43 389.40,747.84 390.33,745.25 391.26,742.66 392.20,740.07 393.14,737.49 394.09,734.91 395.04,732.34 396.00,729.77 396.96,727.20 397.93,724.64 398.91,722.08 399.89,719.52 400.87,716.97 401.86,714.43 402.86,711.89 403.86,709.36 404.87,706.83 405.88,704.31 406.89,701.79 407.91,699.28 408.94,696.78 409.97,694.28 411.01,691.79 412.05,689.30 413.10,686.83 414.15,684.36 415.20,681.90 416.26,679.44 417.33,677.00 418.40,674.56 419.48,672.13 420.56,669.71 421.64,667.29 422.74,664.89 423.83,662.49 424.93,660.10 426.04,657.72 427.15,655.35 428.26,652.99 429.38,650.64 430.51,648.30 431.64,645.96 432.77,643.64 433.91,641.32 435.05,639.02 436.20,636.73 437.35,634.44 438.51,632.17 439.67,629.90 440.84,627.65 442.01,625.40 443.19,623.17 444.37,620.95 445.55,618.74 446.74,616.54 447.94,614.34 449.14,612.16 450.34,610.00 451.55,607.84 452.76,605.69 453.98,603.56 455.20,601.43 456.43,599.32 457.66,597.22 458.89,595.12 460.13,593.05 461.38,590.98 462.62,588.92 463.88,586.88 465.14,584.84 466.40,582.82 467.66,580.81 468.93,578.81 470.21,576.83 471.49,574.85 472.77,572.89 474.06,570.94 475.35,569.00 476.65,567.07 477.95,565.15 479.26,563.25 480.57,561.36 481.88,559.48 483.20,557.61 484.52,555.76 485.85,553.91 487.18,552.08 488.52,550.26 489.86,548.45 491.20,546.66 492.55,544.87 493.90,543.10 495.26,541.34 496.62,539.59 497.98,537.86 499.35,536.14 500.73,534.42 502.10,532.73 503.49,531.04 504.87,529.36 506.26,527.70 507.66,526.05 509.06,524.41 510.46,522.78 511.86,521.17 513.28,519.56 514.69,517.97 516.11,516.39 517.53,514.83 518.96,513.27 520.39,511.73 521.83,510.19 523.26,508.67 524.71,507.17 526.15,505.67 527.61,504.18 529.06,502.71 530.52,501.25 531.98,499.80 533.45,498.36 534.92,496.93 536.40,495.52 537.88,494.11 539.36,492.72 540.85,491.34 542.34,489.97 543.83,488.61 545.33,487.26 546.84,485.93 548.34,484.60 549.85,483.29 551.37,481.99 552.89,480.70 554.41,479.42 555.94,478.15 557.47,476.89 559.00,475.64 560.54,474.40 562.08,473.18 563.63,471.96 565.18,470.76 566.73,469.57 568.29,468.38 569.85,467.21 571.41,466.05 572.98,464.90 574.55,463.76 576.13,462.63 577.71,461.51 579.30,460.40 580.88,459.30 582.48,458.21 584.07,457.13 585.67,456.06 587.27,455.00 588.88,453.95 590.49,452.91 592.10,451.88 593.72,450.86 595.34,449.85 596.97,448.85 598.60,447.86 600.23,446.88 601.87,445.90 603.51,444.94 605.15,443.99 606.80,443.04 608.45,442.11 610.11,441.18 611.76,440.27 613.43,439.36 615.09,438.46 616.76,437.57 618.44,436.69 620.11,435.82 621.79,434.96 623.48,434.11 625.17,433.26 626.86,432.42 628.55,431.60 630.25,430.78 631.96,429.96 633.66,429.16 635.37,428.37 637.08,427.58 638.80,426.80 640.52,426.03 642.25,425.27 643.97,424.52 645.71,423.77 647.44,423.03 649.18,422.30 650.92,421.58 652.67,420.87 654.42,420.16 656.17,419.46 657.92,418.77 659.68,418.09 661.45,417.41 663.21,416.74 664.98,416.08 666.76,415.42 668.54,414.78 670.32,414.13 672.10,413.50 673.89,412.87 675.68,412.26 677.48,411.64 679.27,411.04 681.08,410.44 682.88,409.85 684.69,409.26 686.50,408.68 688.32,408.11 690.14,407.54 691.96,406.98 693.79,406.43 695.62,405.88 697.45,405.34 699.28,404.81 701.12,404.28 702.97,403.76 704.81,403.24 706.66,402.73 708.52,402.23 710.38,401.73 712.24,401.24 714.10,400.75 715.97,400.27 717.84,399.80 719.71,399.33 721.59,398.87 723.47,398.41 725.35,397.95 727.24,397.51 729.13,397.06 731.03,396.63 732.92,396.20 734.83,395.77 736.73,395.35 738.64,394.93 740.55,394.52 742.46,394.12 744.38,393.72 746.30,393.32 748.23,392.93 750.15,392.54 752.09,392.16 754.02,391.78 755.96,391.41 757.90,391.05 759.84,390.68 761.79,390.32 763.74,389.97 765.70,389.62 767.65,389.28 769.61,388.94 771.58,388.60 773.55,388.27 775.52,387.94 777.49,387.62 779.47,387.30 781.45,386.98 783.43,386.67 785.42,386.36 787.41,386.06 789.40,385.76 791.40,385.46 793.40,385.17 795.40,384.88 797.41,384.60 799.42,384.32 801.43,384.04 803.45,383.77 805.47,383.50 807.49,383.23 809.52,382.97 811.55,382.71 813.58,382.45 815.61,382.20 817.65,381.95 819.70,381.71 821.74,381.46 823.79,381.22 825.84,380.99 827.90,380.76 829.95,380.53 832.02,380.30 834.08,380.08 836.15,379.85 838.22,379.64 840.29,379.42 842.37,379.21 844.45,379.00 846.53,378.80 848.62,378.59 850.71,378.39 852.80,378.20 854.90,378.00 857.00,377.81 859.10,377.62 861.20,377.43 863.31,377.25 865.42,377.07 867.54,376.89 869.66,376.71 871.78,376.54 873.90,376.36 876.03,376.19 878.16,376.03 880.29,375.86 882.43,375.70 884.57,375.54 886.71,375.38 888.86,375.23 891.01,375.07 893.16,374.92 895.32,374.77 897.47,374.63 899.64,374.48 901.80,374.34 903.97,374.20 906.14,374.06 908.31,373.92 910.49,373.79 912.67,373.66 914.85,373.52 917.04,373.40 919.23,373.27 921.42,373.14 923.61,373.02 925.81,372.90 928.01,372.78 930.22,372.66 932.43,372.54 934.64,372.43 936.85,372.32 939.07,372.21 941.29,372.10 943.51,371.99 945.73,371.88 947.96,371.78 950.19,371.67 952.43,371.57 954.67,371.47 956.91,371.37 959.15,371.28 961.40,371.18 963.65,371.09 965.90,370.99 968.16,370.90 970.41,370.81 972.68,370.72 974.94,370.64 977.21,370.55 979.48,370.47 981.75,370.38 984.03,370.30 986.31,370.22 988.59,370.14 990.88,370.06 993.17,369.98 995.46,369.91 997.75,369.83 1000.05,369.76 1002.35,369.69 1004.65,369.61 1006.96,369.54 1009.27,369.48 1011.58,369.41 1013.90,369.34 1016.21,369.27 1018.53,369.21 1020.86,369.14 1023.18,369.08 1025.51,369.02 1027.85,368.96 1030.18,368.90 1032.52,368.84 1034.86,368.78 1037.21,368.72 1039.56,368.67 1041.91,368.61 1044.26,368.56 1046.61,368.50 1048.97,368.45 1051.34,368.40 1053.70,368.35 1056.07,368.30 1058.44,368.25 1060.81,368.20 1063.19,368.15 1065.57,368.10 1067.95,368.06 1070.34,368.01 1072.72,367.97 1075.11,367.92 1077.51,367.88 1079.91,367.84" fill="none" stroke="#00af66" stroke-width="5.8" stroke-dasharray="19.80 26.86" stroke-dashoffset="40.07" stroke-linecap="round" stroke-linejoin="round" shape-rendering="crispEdges"/>
<polyline points="1079.91,367.84 1082.58,367.79 1085.25,367.74 1087.92,367.70 1090.59,367.65 1093.26,367.61 1095.93,367.57 1098.60,367.53 1101.27,367.49 1103.94,367.45 1106.61,367.41 1109.29,367.37 1111.96,367.33 1114.63,367.29 1117.30,367.26 1119.97,367.22 1122.64,367.19 1125.31,367.15 1127.98,367.12 1130.65,367.09 1133.32,367.05 1136.00,367.02 1138.67,366.99 1141.34,366.96 1144.01,366.93 1146.68,366.90 1149.35,366.87 1152.02,366.84 1154.69,366.82 1157.36,366.79 1160.03,366.76 1162.70,366.74 1165.38,366.71 1168.05,366.69 1170.72,366.66 1173.39,366.64 1176.06,366.61 1178.73,366.59 1181.40,366.57 1184.07,366.55 1186.74,366.52 1189.41,366.50 1192.09,366.48 1194.76,366.46 1197.43,366.44 1200.10,366.42 1202.77,366.40 1205.44,366.38 1208.11,366.36 1210.78,366.35 1213.45,366.33 1216.12,366.31 1218.79,366.29 1221.47,366.28 1224.14,366.26 1226.81,366.24 1229.48,366.23 1232.15,366.21 1234.82,366.20 1237.49,366.18 1240.16,366.17 1242.83,366.15 1245.50,366.14 1248.18,366.12 1250.85,366.11 1253.52,366.10 1256.19,366.08 1258.86,366.07 1261.53,366.06 1264.20,366.05 1266.87,366.03 1269.54,366.02 1272.21,366.01 1274.89,366.00 1277.56,365.99 1280.23,365.98 1282.90,365.97 1285.57,365.96 1288.24,365.94 1290.91,365.93 1293.58,365.92 1296.25,365.91 1298.92,365.91 1301.59,365.90 1304.27,365.89 1306.94,365.88 1309.61,365.87 1312.28,365.86 1314.95,365.85 1317.62,365.84 1320.29,365.84 1322.96,365.83 1325.63,365.82 1328.30,365.81 1330.98,365.80 1333.65,365.80 1336.32,365.79 1338.99,365.78 1341.66,365.78 1344.33,365.77 1347.00,365.76 1349.67,365.75 1352.34,365.75 1355.01,365.74 1357.68,365.74 1360.36,365.73 1363.03,365.72 1365.70,365.72 1368.37,365.71 1371.04,365.71 1373.71,365.70 1376.38,365.70 1379.05,365.69 1381.72,365.68 1384.39,365.68 1387.07,365.67 1389.74,365.67 1392.41,365.66 1395.08,365.66 1397.75,365.66 1400.42,365.65" fill="none" stroke="#00af66" stroke-width="5.8" stroke-dasharray="19.80 27.40" stroke-dashoffset="0.00" stroke-linecap="round" stroke-linejoin="round" shape-rendering="crispEdges"/>
</svg></body></html>
